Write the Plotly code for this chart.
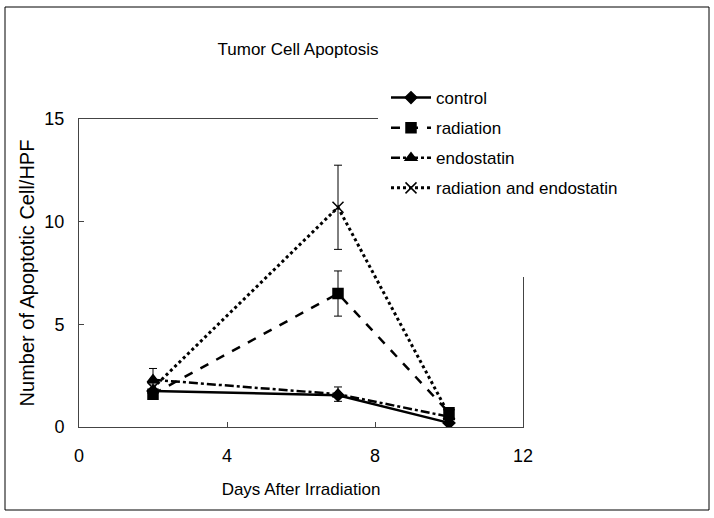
import plotly.graph_objects as go

# ── Data ──────────────────────────────────────────────────────────────────────
days = [2, 7, 10]

control = [1.75, 1.55, 0.2]
control_err = [0.0, 0.0, 0.0]

radiation = [1.6, 6.5, 0.7]
radiation_err = [0.2, 1.1, 0.2]

endostatin = [2.3, 1.6, 0.5]
endostatin_err = [0.55, 0.35, 0.1]

rad_endo = [1.9, 10.7, 0.6]
rad_endo_err = [0.2, 2.05, 0.2]

FONT = "Liberation Sans, Arial"
AXIS_COLOR = "#444444"

series = [
    ("control", control, control_err, "solid", "diamond", 2.5, 9),
    ("radiation", radiation, radiation_err, "dash", "square", 2.5, 10),
    ("endostatin", endostatin, endostatin_err, "dashdot", "triangle-up", 2.5, 10),
    ("radiation and endostatin", rad_endo, rad_endo_err, "dot", "x-thin-open", 3, 11),
]

fig = go.Figure()
for name, vals, errs, dash, sym, lw, ms in series:
    fig.add_trace(go.Scatter(
        x=days, y=vals, name=name, legendgroup=name,
        mode="lines+markers",
        line=dict(color="black", width=lw, dash=dash),
        marker=dict(symbol=sym, size=ms, color="black",
                    line=dict(color="black", width=1.5)),
        error_y=dict(type="data", array=errs, visible=True,
                     color="black", thickness=1, width=4),
    ))

# plot area in pixels: x 79..523, y 119..427
px_x = lambda p: (p - 79) / 444
px_y = lambda p: (427 - p) / 308

fig.update_layout(
    width=714, height=518,
    margin=dict(l=79, r=191, t=119, b=91),
    paper_bgcolor="white", plot_bgcolor="white",
    font=dict(family=FONT, size=17, color="black"),
    title=dict(text="Tumor Cell Apoptosis", x=298 / 714, xanchor="center",
               y=1 - 49 / 518, yanchor="middle",
               font=dict(family=FONT, size=17)),
    showlegend=True,
    legend=dict(x=px_x(386), y=px_y(80), xanchor="left", yanchor="top",
                bgcolor="rgba(0,0,0,0)", font=dict(family=FONT, size=17),
                tracegroupgap=5, itemwidth=40),
    xaxis=dict(range=[0, 12], tickvals=[0, 4, 8, 12], showgrid=False,
               zeroline=False, showline=True, linecolor=AXIS_COLOR, linewidth=1,
               mirror=True, ticks="inside", ticklen=5, tickcolor=AXIS_COLOR,
               ticklabelstandoff=12, tickfont=dict(size=18),
               title=dict(text="Days After Irradiation", standoff=18,
                          font=dict(family=FONT, size=17))),
    yaxis=dict(range=[0, 15], tickvals=[0, 5, 10, 15], showgrid=False,
               zeroline=False, showline=True, linecolor=AXIS_COLOR, linewidth=1,
               mirror=True, ticks="inside", ticklen=5, tickcolor=AXIS_COLOR,
               ticklabelstandoff=10, tickfont=dict(size=18),
               title=dict(text="Number of Apoptotic Cell/HPF", standoff=4,
                          font=dict(family=FONT, size=20))),
    shapes=[
        dict(type="rect", xref="paper", yref="paper",
             x0=px_x(5), x1=px_x(709), y0=px_y(510), y1=px_y(7),
             line=dict(color="black", width=1), layer="below"),
        dict(type="rect", xref="paper", yref="paper",
             x0=px_x(378), x1=px_x(640), y0=px_y(277), y1=px_y(82),
             fillcolor="white", line=dict(width=0), layer="above"),
    ],
)

fig.write_html("out.html", config={"displayModeBar": False},
               post_script="document.body.style.margin='0px';")
